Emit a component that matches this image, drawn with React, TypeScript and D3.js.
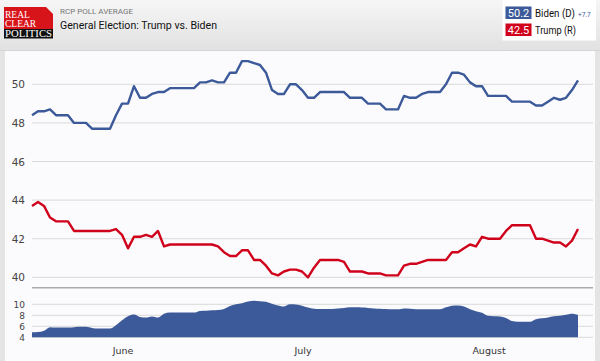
import React from "react";
import * as d3 from "d3";

// daily RCP averages, May 17 -> Aug 16
const startDate = new Date(2020, 4, 17);

const biden = [
  48.4, 48.6, 48.6, 48.7, 48.4, 48.4, 48.4, 48.0, 48.0, 48.0,
  47.7, 47.7, 47.7, 47.7, 48.4, 49.0, 49.0, 49.9, 49.3, 49.3,
  49.5, 49.6, 49.6, 49.8, 49.8, 49.8, 49.8, 49.8, 50.1, 50.1,
  50.2, 50.1, 50.1, 50.6, 50.6, 51.2, 51.2, 51.1, 51.0, 50.6,
  49.7, 49.5, 49.5, 50.0, 50.0, 49.7, 49.3, 49.3, 49.6, 49.6,
  49.6, 49.6, 49.6, 49.3, 49.3, 49.3, 49.0, 49.0, 49.0, 48.7,
  48.7, 48.7, 49.4, 49.3, 49.3, 49.5, 49.6, 49.6, 49.6, 50.0,
  50.6, 50.6, 50.5, 50.1, 49.9, 49.9, 49.4, 49.4, 49.4, 49.4,
  49.1, 49.1, 49.1, 49.1, 48.9, 48.9, 49.1, 49.3, 49.2, 49.3,
  49.7, 50.2,
];

const trump = [
  43.7, 43.9, 43.7, 43.1, 42.9, 42.9, 42.9, 42.4, 42.4, 42.4,
  42.4, 42.4, 42.4, 42.4, 42.5, 42.2, 41.5, 42.1, 42.1, 42.2,
  42.1, 42.4, 41.6, 41.7, 41.7, 41.7, 41.7, 41.7, 41.7, 41.7,
  41.7, 41.6, 41.3, 41.1, 41.1, 41.4, 41.4, 40.9, 40.9, 40.6,
  40.2, 40.1, 40.3, 40.4, 40.4, 40.3, 40.0, 40.5, 40.9, 40.9,
  40.9, 40.9, 40.8, 40.3, 40.3, 40.3, 40.2, 40.2, 40.2, 40.1,
  40.1, 40.1, 40.6, 40.7, 40.7, 40.8, 40.9, 40.9, 40.9, 40.9,
  41.3, 41.3, 41.5, 41.7, 41.6, 42.1, 42.0, 42.0, 42.0, 42.4,
  42.7, 42.7, 42.7, 42.7, 42.0, 42.0, 41.9, 41.8, 41.8, 41.6,
  41.9, 42.5,
];

// spread band drawn under the main chart
const spread = [
  4.9, 4.95, 5.2, 5.85, 5.8, 5.8, 5.8, 5.85, 5.9, 5.9,
  5.7, 5.6, 5.6, 5.6, 6.2, 7.1, 7.85, 8.15, 7.7, 7.6,
  7.8, 7.6, 8.3, 8.5, 8.5, 8.5, 8.5, 8.5, 8.8, 8.85,
  8.9, 8.95, 9.15, 9.7, 10.0, 10.2, 10.5, 10.65, 10.55, 10.45,
  10.1, 9.8, 9.6, 10.0, 9.95, 9.75, 9.4, 9.2, 9.15, 9.15,
  9.15, 9.25, 9.35, 9.45, 9.45, 9.4, 9.35, 9.25, 9.2, 9.15,
  9.1, 9.1, 9.25, 9.2, 9.1, 9.1, 9.1, 9.1, 9.1, 9.45,
  9.75, 9.8, 9.6, 9.1, 8.75, 8.45, 7.9, 7.85, 7.8, 7.5,
  6.95, 6.85, 6.85, 6.85, 7.3, 7.45, 7.6, 7.85, 7.9, 8.1,
  8.3, 8.05,
];

const mainTicks = [40, 42, 44, 46, 48, 50];
const spreadTicks = [4, 6, 8, 10];

const BLUE = "#3c5a99";
const RED = "#d0021b";

export default function App() {
  const width = 600;
  const height = 361;
  const left = 32;
  const right = 593;

  const dates = biden.map((_, i) => d3.timeDay.offset(startDate, i));

  const x = d3
    .scaleTime()
    .domain([startDate, d3.timeHour.offset(startDate, 93.5 * 24)])
    .range([left, right]);
  const y = d3.scaleLinear().domain([40, 50]).range([277.3, 84.3]);
  const yS = d3.scaleLinear().domain([4, 10]).range([337.3, 304.3]);

  const line = d3
    .line<number>()
    .x((_, i) => x(dates[i]))
    .y((d) => y(d));

  const area = d3
    .area<number>()
    .x((_, i) => x(dates[i]))
    .y0(yS(4))
    .y1((d) => yS(d))
    .curve(d3.curveMonotoneX);

  const months = x.ticks(d3.timeMonth.every(1)!).filter((d) => d > startDate);
  const fmt = d3.timeFormat("%B");

  const lastB = biden[biden.length - 1];
  const lastT = trump[trump.length - 1];

  return (
    <svg width={width} height={height} style={{ position: "absolute", left: 0, top: 0 }}>
      <defs>
        <linearGradient id="hdr" x1="0" y1="0" x2="0" y2="1">
          <stop offset="0" stopColor="#f6f6f6" />
          <stop offset="1" stopColor="#e1e1e1" />
        </linearGradient>
      </defs>
      <rect x={0} y={0} width={width} height={height} fill="#e4e4e4" />
      <rect x={0} y={0} width={width} height={51} fill="url(#hdr)" />
      <rect x={5} y={51} width={590} height={height - 51} fill="#fbfbfd" />
      <line x1={0} x2={width} y1={50.5} y2={50.5} stroke="#d4d4d4" />

      {/* logo */}
      <path d="M4,7 H46 L53,14 V30 H4 Z" fill="#d7141a" />
      <rect x={4} y={29} width={49} height={9.5} fill="#111" />
      <g fontFamily="'Liberation Serif', serif" fill="#fff" fontSize={9.5}>
        <text x={5} y={18}>REAL</text>
        <text x={5} y={27}>CLEAR</text>
        <text x={5} y={37.3} textLength={47} lengthAdjust="spacingAndGlyphs">POLITICS</text>
      </g>

      <g fontFamily="Roboto, sans-serif">
        <text x={60} y={14} fontSize={8} fill="#777">RCP POLL AVERAGE</text>
        <text x={60} y={28.5} fontSize={11} fill="#111" textLength={157} lengthAdjust="spacingAndGlyphs">
          General Election: Trump vs. Biden
        </text>
      </g>

      {/* legend */}
      <g fontFamily="Roboto, sans-serif">
        <rect x={502.5} y={0} width={93.5} height={40.5} fill="#fff" />
        <rect x={505.5} y={6.5} width={26} height={12.5} fill={BLUE} />
        <rect x={505.5} y={23.5} width={26} height={12.5} fill={RED} />
        <text x={518.5} y={17} fontSize={11} fill="#fff" textAnchor="middle">{lastB.toFixed(1)}</text>
        <text x={518.5} y={34} fontSize={11} fill="#fff" textAnchor="middle">{lastT.toFixed(1)}</text>
        <text x={535} y={17} fontSize={10.5} fill="#111" textLength={40} lengthAdjust="spacingAndGlyphs">Biden (D)</text>
        <text x={535} y={34} fontSize={10.5} fill="#111" textLength={41} lengthAdjust="spacingAndGlyphs">Trump (R)</text>
        <text x={578} y={16.5} fontSize={6.5} fill={BLUE}>
          +{(lastB - lastT).toFixed(1)}
        </text>
      </g>

      {/* main grid */}
      {mainTicks.map((t) => (
        <g key={t}>
          <line x1={left} x2={right} y1={y(t)} y2={y(t)} stroke="#dadada" />
          <text x={25} y={y(t) + 4} fontSize={10.5} fill="#444" textAnchor="end" fontFamily="'DejaVu Sans', sans-serif">
            {t}
          </text>
        </g>
      ))}
      {spreadTicks.map((t) => (
        <g key={"s" + t}>
          <line x1={left} x2={right} y1={yS(t)} y2={yS(t)} stroke="#dadada" />
          <text x={25} y={yS(t) + 3.5} fontSize={9} fill="#444" textAnchor="end" fontFamily="'DejaVu Sans', sans-serif">
            {t}
          </text>
        </g>
      ))}

      <path d={area(spread) || ""} fill={BLUE} />
      <line x1={left} x2={right} y1={287.7} y2={287.7} stroke="#aaaaaa" strokeWidth={1.5} />

      <path d={line(biden) || ""} fill="none" stroke={BLUE} strokeWidth={2.4} strokeLinejoin="round" />
      <path d={line(trump) || ""} fill="none" stroke={RED} strokeWidth={2.4} strokeLinejoin="round" />

      {months.map((m) => (
        <text
          key={m.getTime()}
          x={x(m) + 1}
          y={353.5}
          fontSize={9.5}
          fill="#333"
          textAnchor="middle"
          fontFamily="'DejaVu Sans', sans-serif"
        >
          {fmt(m)}
        </text>
      ))}
    </svg>
  );
}
